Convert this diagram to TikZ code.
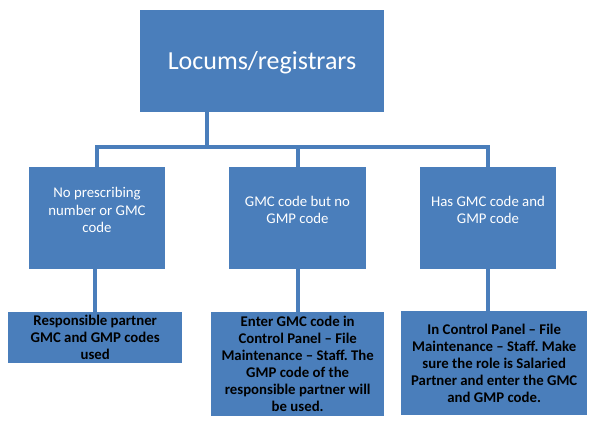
\documentclass[tikz,border=0pt]{standalone}
\usepackage{fontspec}
\setmainfont{Carlito}
\frenchspacing
\definecolor{boxblue}{HTML}{4A7EBB}
\begin{document}
\begin{tikzpicture}[x=1pt,y=1pt,
  box/.style={fill=boxblue, draw=none, inner sep=0pt, anchor=north west},
  midtext/.style={text=white, align=center, font=\fontsize{14.8}{17.2}\selectfont, inner sep=0pt},
  bottext/.style={text=black, align=center, font=\fontsize{14.8}{17}\selectfont\bfseries, inner sep=0pt},
  conn/.style={draw=boxblue, line width=3.6pt}]
\useasboundingbox (0,0) rectangle (592,-421);
\fill[white] (0,0) rectangle (592,-421);
% top
\node[box, minimum width=244, minimum height=102] (top) at (140,-10) {};
\node[text=white, font=\fontsize{26}{30}\selectfont, inner sep=0pt] (toptext) at (262,-63) {Locums/registrars};
% middle row
\node[box, minimum width=136, minimum height=102] (m1) at (29,-167) {};
\node[box, minimum width=137, minimum height=102] (m2) at (229,-167) {};
\node[box, minimum width=136, minimum height=102] (m3) at (420,-167) {};
\node[midtext] (m1t) at (97,-210) {No prescribing\\number or GMC\\code};
\node[midtext] (m2t) at (297.5,-210) {GMC code but no\\GMP code};
\node[midtext] (m3t) at (488,-210) {Has GMC code and\\GMP code};
% bottom row
\node[box, minimum width=174, minimum height=51] (b1) at (8,-312) {};
\node[box, minimum width=173, minimum height=104] (b2) at (211,-312) {};
\node[box, minimum width=186, minimum height=104] (b3) at (401,-311) {};
\node[bottext] (b1t) at (b1.center) {Responsible partner\\GMC and GMP codes\\used};
\node[bottext] (b2t) at (b2.center) {Enter GMC code in\\Control Panel -- File\\Maintenance -- Staff. The\\GMP code of the\\responsible partner will\\be used.};
\node[bottext] (b3t) at (b3.center) {In Control Panel -- File\\Maintenance -- Staff. Make\\sure the role is Salaried\\Partner and enter the GMC\\and GMP code.};
% connectors
\coordinate (hub) at (207,-147);
\draw[conn] (top.south -| hub) -- (hub);
\draw[conn, line join=miter] (m1.north) -- (m1.north |- hub) -- (m3.north |- hub) -- (m3.north);
\draw[conn] (m2.north |- hub) -- (m2.north);
\draw[conn] (b1.north |- m1.south) -- (b1.north);
\draw[conn] (m2.south) -- (b2.north);
\draw[conn] (m3.south) -- (m3.south |- b3.north);
\end{tikzpicture}
\end{document}
